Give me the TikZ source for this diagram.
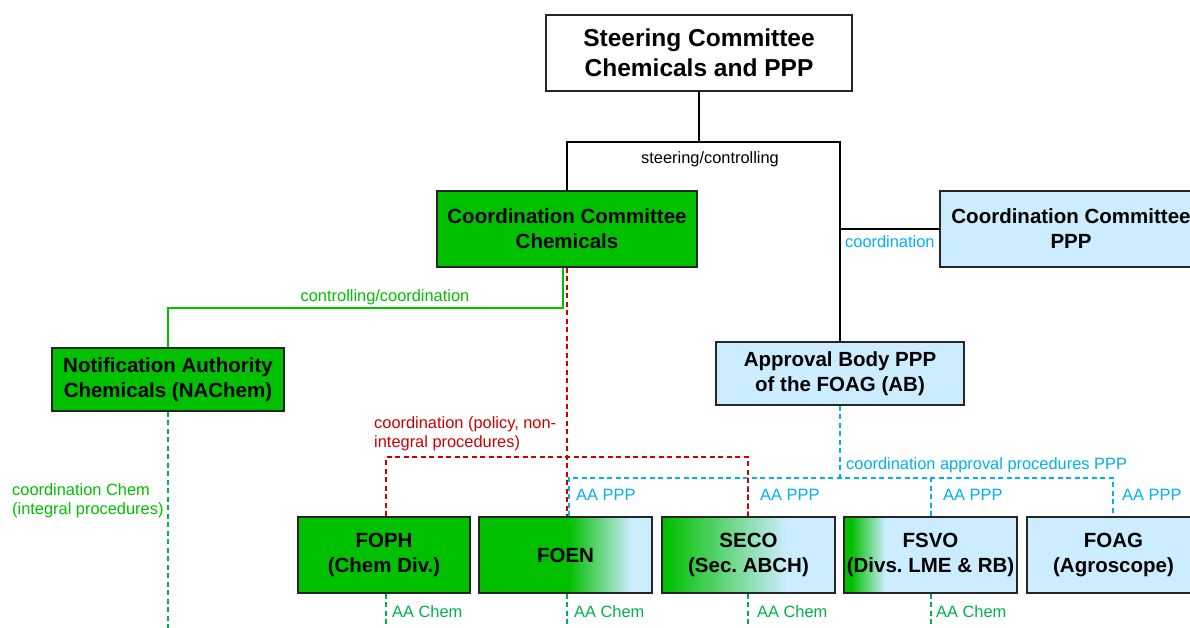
\documentclass[tikz,border=0pt]{standalone}
\usepackage{fontspec}
\setmainfont{Liberation Sans}
\usetikzlibrary{calc}
\frenchspacing

\definecolor{boxgreen}{RGB}{0,192,0}
\definecolor{boxblue}{RGB}{204,236,255}
\definecolor{chemgreen}{RGB}{0,190,0}
\definecolor{aagreen}{RGB}{0,176,80}
\definecolor{pppblue}{RGB}{0,176,240}
\definecolor{polred}{RGB}{204,0,0}

\pgfdeclarehorizontalshading{foenshade}{100bp}{color(0bp)=(boxgreen); color(51bp)=(boxgreen); color(69bp)=(boxblue); color(100bp)=(boxblue)}
\pgfdeclarehorizontalshading{secoshade}{100bp}{color(0bp)=(boxgreen); color(26bp)=(boxgreen); color(61bp)=(boxblue); color(100bp)=(boxblue)}
\pgfdeclarehorizontalshading{fsvoshade}{100bp}{color(0bp)=(boxgreen); color(27bp)=(boxgreen); color(37bp)=(boxblue); color(100bp)=(boxblue)}

\tikzset{
  orgbox/.style={draw=black!85, line width=1.6pt, inner sep=0pt, align=center,
    font=\bfseries\fontsize{20.5}{25}\selectfont},
  lbl/.style={inner sep=0pt, font=\fontsize{16.4}{19}\selectfont},
  link/.style={line width=1.6pt},
  reddash/.style={line width=1.8pt, polred, dash pattern=on 5pt off 3.5pt},
  bluedash/.style={line width=1.8pt, pppblue, dash pattern=on 5pt off 3.5pt},
  aadash/.style={line width=1.8pt, aagreen, dash pattern=on 5pt off 3.5pt},
}

\begin{document}
\begin{tikzpicture}[x=1pt, y=-1pt]
  \useasboundingbox (0,0) rectangle (1190,627);

  % Steering committee
  \node[orgbox, fill=white, minimum width=306pt, minimum height=76pt,
    font=\bfseries\fontsize{24.5}{30}\selectfont] (steer) at (699,53)
    {Steering Committee\\Chemicals and PPP};

  % Coordination committees
  \node[orgbox, fill=boxgreen, minimum width=260pt, minimum height=76pt] (cchem) at (567,229)
    {Coordination Committee\\Chemicals};
  \node[orgbox, fill=boxblue, minimum width=262pt, minimum height=76pt] (cppp) at (1071,229)
    {Coordination Committee\\PPP};

  % Approval body and notification authority
  \node[orgbox, fill=boxblue, minimum width=248pt, minimum height=63pt] (ab) at (840,373.5)
    {Approval Body PPP\\of the FOAG (AB)};
  \node[orgbox, fill=boxgreen, minimum width=232pt, minimum height=63pt] (nachem) at (168,379.5)
    {Notification Authority\\Chemicals (NAChem)};

  % Offices
  \node[orgbox, fill=boxgreen, minimum width=172pt, minimum height=76pt] (foph) at (384,555)
    {FOPH\\(Chem Div.)};
  \node[orgbox, shade, shading=foenshade, minimum width=173pt, minimum height=76pt] (foen) at (565.5,555)
    {FOEN};
  \node[orgbox, shade, shading=secoshade, minimum width=173pt, minimum height=76pt] (seco) at (748.5,555)
    {SECO\\(Sec. ABCH)};
  \node[orgbox, shade, shading=fsvoshade, minimum width=173pt, minimum height=76pt] (fsvo) at (930.5,555)
    {FSVO\\(Divs. LME \& RB)};
  \node[orgbox, fill=boxblue, minimum width=173pt, minimum height=76pt] (foag) at (1113.5,555)
    {FOAG\\(Agroscope)};

  % Steering/controlling
  \coordinate (split) at (699,142);
  \draw[link] (steer.south) -- (split);
  \draw[link] (cchem.north) -- (cchem.north |- split) -- (split -| ab.north) -- (ab.north);
  \node[lbl] (steerlbl) at (710,159) {steering/controlling};

  % Coordination PPP
  \draw[link] (cppp.west) -- (cppp.west -| ab.north);
  \node[lbl, pppblue, anchor=west] (cpplbl) at (845,242) {coordination};

  % Controlling/coordination chemicals
  \draw[link, chemgreen] ([xshift=-4pt]cchem.south) -- ++(0,40) -| (nachem.north);
  \node[lbl, chemgreen] (ctrllbl) at (385,297) {controlling/coordination};

  % Coordination approval procedures PPP
  \coordinate (pppjoin) at (840,478);
  \draw[bluedash] (ab.south) -- (pppjoin);
  \draw[bluedash] ([xshift=3.5pt]foen.north) |- (pppjoin) -| ([xshift=-0.5pt]foag.north);
  \draw[bluedash] ([xshift=0.5pt]fsvo.north) -- ([xshift=0.5pt]fsvo.north |- pppjoin);
  \draw[bluedash] ([xshift=-0.5pt]seco.north) -- ([xshift=-0.5pt]seco.north |- pppjoin);
  \node[lbl, pppblue, anchor=west] (apprlbl) at (846,465) {coordination approval procedures PPP};

  % Coordination policy
  \draw[reddash] (cchem.south) -- (cchem.south |- foen.north);
  \draw[reddash] ([xshift=2pt]foph.north) -- ++(0,-59) -| ([xshift=-0.5pt]seco.north);
  \node[lbl, polred, anchor=west, align=left] (pollbl) at (374,433.5)
    {coordination (policy, non-\\integral procedures)};

  % Integral procedures
  \draw[aadash] (nachem.south) -- ++(0,220);
  \node[lbl, chemgreen, anchor=west, align=left] (intlbl) at (12,500.5)
    {coordination Chem\\(integral procedures)};

  % AA PPP
  \node[lbl, pppblue, anchor=west] (aapppa) at (576,495) {AA PPP};
  \node[lbl, pppblue, anchor=west] (aapppb) at (760,495) {AA PPP};
  \node[lbl, pppblue, anchor=west] (aapppc) at (943,495) {AA PPP};
  \node[lbl, pppblue, anchor=west] (aapppd) at (1122,495) {AA PPP};

  % AA Chem
  \foreach \o/\s/\x in {foph/2/392, foen/1.5/574, seco/-0.5/757, fsvo/0.5/936} {
    \draw[aadash] ([xshift=\s pt]\o.south) -- ++(0,40);
    \node[lbl, aagreen, anchor=west] (aa\o) at (\x,612) {AA Chem};
  }

\end{tikzpicture}
\end{document}
